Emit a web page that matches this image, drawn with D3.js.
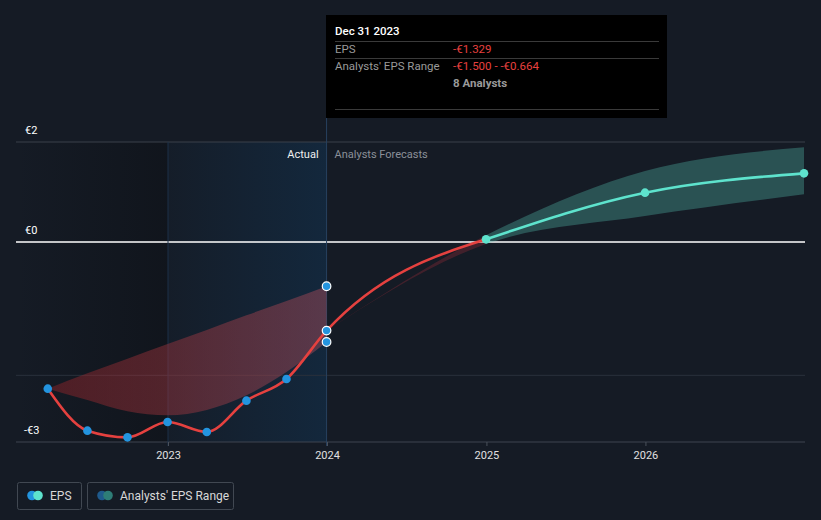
<!DOCTYPE html>
<html>
<head>
<meta charset="utf-8">
<script src="https://cdn.jsdelivr.net/npm/d3@7"></script>
<style>
  html, body { margin: 0; padding: 0; background: #151b25; }
  svg { display: block; font-family: Roboto, "Noto Sans", sans-serif; }
</style>
</head>
<body>
<svg id="chart" width="821" height="520"></svg>
<script>
// ---------- data ----------
const pastDates = ["2022-03-31","2022-06-30","2022-09-30","2022-12-31","2023-03-31","2023-06-30","2023-09-30","2023-12-31"];
const pastEPS   = [-2.20, -2.83, -2.93, -2.70, -2.85, -2.38, -2.055, -1.329];
const pastRangeHigh = [-2.20, -1.97, -1.75, -1.53, -1.32, -1.10, -0.885, -0.664];
const pastRangeLow  = [-2.20, -2.37, -2.54, -2.60, -2.52, -2.30, -1.95, -1.500];

const fcDates = ["2023-12-31","2024-12-31","2025-12-31","2026-12-31"];
const fcEPS   = [-1.329, 0.04, 0.74, 1.03];
const fcHigh  = [-1.329, 0.10, 1.065, 1.42];
const fcLow   = [-1.329, -0.03, 0.39, 0.715];

const xTickYears = [2023, 2024, 2025, 2026];
const yTickValues = [1.5, 0, -2, -3];
const yTickLabels = ["€2", "€0", "", "-€3"];

const tooltipTitle = "Dec 31 2023";
const tooltipRows = [
  {label: "EPS", value: "-€1.329"},
  {label: "Analysts' EPS Range", value: "-€1.500 - -€0.664"}
];
const tooltipAnalysts = "8 Analysts";
const legendItems = ["EPS", "Analysts' EPS Range"];

// ---------- setup ----------
const parse = d3.timeParse("%Y-%m-%d");
const svg = d3.select("#chart");
const W = 821, H = 520;
const plotL = 16, plotR = 805, plotT = 142, plotB = 442;

const x = d3.scaleTime()
  .domain([new Date(2023,0,1), new Date(2024,0,1)])
  .range([168, 327]);
const y = d3.scaleLinear().domain([-3, 1.5]).range([plotB, plotT]);

const past = pastDates.map((d,i)=>({date: parse(d), eps: pastEPS[i], hi: pastRangeHigh[i], lo: pastRangeLow[i]}));
const fc = fcDates.map((d,i)=>({date: parse(d), eps: fcEPS[i], hi: fcHigh[i], lo: fcLow[i]}));

const defs = svg.append("defs");

// background
svg.append("rect").attr("width", W).attr("height", H).attr("fill", "#151b25");

// past shading
const xNowStart = x(new Date(2023,0,1));
const xNow = x(parse("2023-12-31"));
const g0 = defs.append("linearGradient").attr("id","oldGrad").attr("x1","0").attr("x2","1").attr("y1","0").attr("y2","0");
g0.append("stop").attr("offset","0%").attr("stop-color","#0c0f14").attr("stop-opacity",0.0);
g0.append("stop").attr("offset","100%").attr("stop-color","#0c0f14").attr("stop-opacity",0.5);
svg.append("rect").attr("x", plotL).attr("y", plotT).attr("width", xNowStart - plotL).attr("height", plotB - plotT)
  .attr("fill", "url(#oldGrad)");
const g1 = defs.append("linearGradient").attr("id","actualGrad").attr("x1","0").attr("x2","1").attr("y1","0").attr("y2","0");
g1.append("stop").attr("offset","0%").attr("stop-color","#12304c").attr("stop-opacity",0.1);
g1.append("stop").attr("offset","100%").attr("stop-color","#12304c").attr("stop-opacity",0.6);
svg.append("rect").attr("x", xNowStart).attr("y", plotT).attr("width", xNow - xNowStart).attr("height", plotB - plotT)
  .attr("fill", "url(#actualGrad)");

// horizontal gridlines
yTickValues.forEach((v,i)=>{
  let color = "#3a404a", w = 1;
  if (v === 0) { color = "#ffffff"; w = 1.3; }
  else if (v === -2) { color = "#2a313c"; }
  else if (v === -3) { color = "#3f4550"; }
  svg.append("line").attr("x1", plotL).attr("x2", plotR).attr("y1", y(v)).attr("y2", y(v))
    .attr("stroke", color).attr("stroke-width", w);
  if (yTickLabels[i]) {
    svg.append("text").attr("x", yTickLabels[i].startsWith("-") ? 24 : 25).attr("y", y(v) - 8)
      .attr("fill", "#ffffff").attr("font-size", 11).text(yTickLabels[i]);
  }
});

// vertical lines
svg.append("line").attr("x1", xNowStart).attr("x2", xNowStart).attr("y1", plotT).attr("y2", plotB + 4)
  .attr("stroke", "#1c3048").attr("stroke-width", 1);
svg.append("line").attr("x1", xNow).attr("x2", xNow).attr("y1", 118).attr("y2", plotB + 4)
  .attr("stroke", "#27415e").attr("stroke-width", 1);

// x axis
const xAxis = d3.axisBottom(x)
  .tickValues(xTickYears.map(yr => new Date(yr,0,1)))
  .tickFormat(d3.timeFormat("%Y"))
  .tickSize(4).tickPadding(5);
const axG = svg.append("g").attr("transform", `translate(0,${plotB})`).call(xAxis);
axG.select(".domain").remove();
axG.selectAll(".tick line").attr("stroke", "#4a505a");
axG.selectAll(".tick text").attr("fill", "#e0e0e0").attr("font-size", 11).attr("font-family", "Roboto, sans-serif");

// labels
svg.append("text").attr("x", xNow - 8).attr("y", 158).attr("text-anchor", "end")
  .attr("fill", "#f0f0f0").attr("font-size", 11).text("Actual");
svg.append("text").attr("x", xNow + 8).attr("y", 158)
  .attr("fill", "#8b9099").attr("font-size", 11).text("Analysts Forecasts");

// past range area
const areaGen = d3.area().x(d=>x(d.date)).y0(d=>y(d.lo)).y1(d=>y(d.hi)).curve(d3.curveMonotoneX);
const gRed = defs.append("linearGradient").attr("id","redGrad").attr("x1","0").attr("x2","1").attr("y1","0").attr("y2","0");
gRed.append("stop").attr("offset","0%").attr("stop-color","#962328").attr("stop-opacity",0.45);
gRed.append("stop").attr("offset","100%").attr("stop-color","#b8505e").attr("stop-opacity",0.42);
svg.append("path").datum(past).attr("d", areaGen).attr("fill", "url(#redGrad)");

// forecast range area (red tint before first forecast, teal after)
const xSplit = x(fc[1].date);
defs.append("clipPath").attr("id","clipLeft").append("rect").attr("x", 0).attr("y", 0).attr("width", xSplit).attr("height", H);
defs.append("clipPath").attr("id","clipRight").append("rect").attr("x", xSplit).attr("y", 0).attr("width", plotR - xSplit).attr("height", H);
svg.append("path").datum(fc).attr("d", areaGen).attr("fill", "#a8303a").attr("opacity", 0.3).attr("clip-path", "url(#clipLeft)");
svg.append("path").datum(fc).attr("d", areaGen).attr("fill", "#55c2b2").attr("opacity", 0.33).attr("clip-path", "url(#clipRight)");

// EPS lines
const lineGen = d3.line().x(d=>x(d.date)).y(d=>y(d.eps)).curve(d3.curveMonotoneX);
const redData = past.concat([fc[1]]);
svg.append("path").datum(redData).attr("d", lineGen).attr("fill","none").attr("stroke","#e5413f").attr("stroke-width", 2.6);
svg.append("path").datum(fc.slice(1)).attr("d", lineGen).attr("fill","none").attr("stroke","#5ee3cd").attr("stroke-width", 2.6);

// points
svg.selectAll(".pp").data(past.slice(0, -1)).enter().append("circle")
  .attr("cx", d=>x(d.date)).attr("cy", d=>y(d.eps)).attr("r", 4.3).attr("fill", "#2394df");
const last = past[past.length-1];
[last.hi, last.eps, last.lo].forEach(v=>{
  svg.append("circle").attr("cx", x(last.date)).attr("cy", y(v)).attr("r", 4.3)
    .attr("fill", "#2394df").attr("stroke", "#ffffff").attr("stroke-width", 1.2);
});
svg.selectAll(".fp").data(fc.slice(1)).enter().append("circle")
  .attr("cx", d=>x(d.date)).attr("cy", d=>y(d.eps)).attr("r", 4.3).attr("fill", "#5ee3cd");

// tooltip
const tt = svg.append("g");
tt.append("rect").attr("x", 326).attr("y", 15).attr("width", 341).attr("height", 103).attr("fill", "#000000");
tt.append("text").attr("x", 335).attr("y", 35).attr("fill", "#ffffff").attr("font-size", 11.5).attr("font-weight", 500).text(tooltipTitle);
[41, 58, 109].forEach(yy=>{
  tt.append("line").attr("x1", 335).attr("x2", 659).attr("y1", yy + 0.5).attr("y2", yy + 0.5).attr("stroke", "#3a3a3a");
});
tooltipRows.forEach((r,i)=>{
  const by = 53 + i*17;
  tt.append("text").attr("x", 335).attr("y", by).attr("fill", "#9a9a9a").attr("font-size", 11.5).text(r.label);
  tt.append("text").attr("x", 453).attr("y", by).attr("fill", "#e8413f").attr("font-size", 11.5).text(r.value);
});
tt.append("text").attr("x", 453).attr("y", 87).attr("fill", "#9a9a9a").attr("font-size", 11.5).attr("font-weight", 700).text(tooltipAnalysts);

// legend
const leg = svg.append("g");
const legBoxes = [{x: 17, w: 64, c1: "#2394df", c2: "#5ee3cd"}, {x: 87, w: 146, c1: "#1f5a8c", c2: "#2e7d77"}];
legBoxes.forEach((b,i)=>{
  leg.append("rect").attr("x", b.x + 0.5).attr("y", 482.5).attr("width", b.w).attr("height", 27).attr("rx", 2)
    .attr("fill", "none").attr("stroke", "#414852");
  leg.append("circle").attr("cx", b.x + 15).attr("cy", 495.5).attr("r", 4.8).attr("fill", b.c1);
  leg.append("circle").attr("cx", b.x + 21).attr("cy", 495.5).attr("r", 4.8).attr("fill", b.c2);
  leg.append("text").attr("x", b.x + 33).attr("y", 500).attr("fill", "#d8d8d8").attr("font-size", 12).text(legendItems[i]);
});
</script>
</body>
</html>
